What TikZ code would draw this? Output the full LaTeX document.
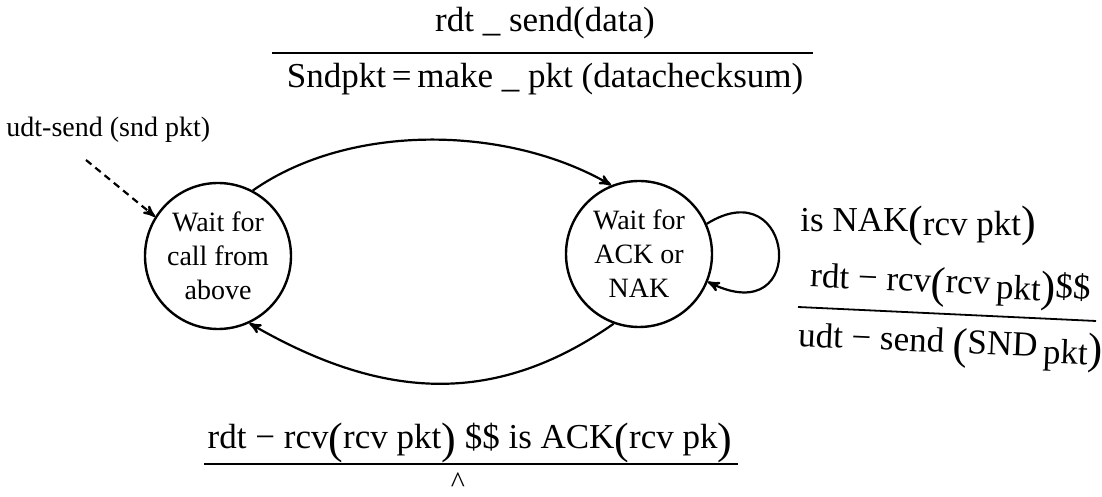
\documentclass[tikz,border=0pt]{standalone}
\usepackage{fontspec}
\setmainfont{Liberation Serif}
\usetikzlibrary{arrows}
\newcommand{\tallL}{\raisebox{-2.5pt}{\fontsize{22}{22}\selectfont(}}
\newcommand{\tallR}{\raisebox{-2.5pt}{\fontsize{22}{22}\selectfont)}}

\begin{document}
\begin{tikzpicture}[x = 0.5pt, y = 0.5pt, font=\fontsize{17.5}{20}\selectfont]
\tikzstyle{stateStyle}=[shape = circle, draw, line width = 1.2pt, minimum size = 73pt, inner sep = 0pt, align = center, font = \fontsize{14}{17}\selectfont]
\tikzstyle{edgeStyle}=[line width = 1.1pt, -stealth']
\tikzstyle{labelStyle}=[inner sep = 0pt, anchor = base]
\tikzstyle{barStyle}=[line width = 0.9pt]
\useasboundingbox (0,0) rectangle (1102,497);
% states
\node[stateStyle] (wcall) at (218,241) {Wait for\\call from\\above};
\node[stateStyle] (wack) at (639,243) {Wait for\\ACK or\\NAK};
% transitions
\coordinate (udtstart) at (86,337);
\path [edgeStyle]
(wcall.62) edge [out=35, in=150, looseness=0.85] (wack.112)
(wack.250) edge [out=215, in=-30, looseness=1.05] (wcall.295);
\draw [edgeStyle] (wack.24) .. controls +(88,55) and +(102,-50) .. (wack.-22);
\draw [edgeStyle, dash pattern=on 3.5pt off 2.5pt] (udtstart) -- (wcall.148);
% labels
\node[labelStyle, anchor = base west, font = \fontsize{14}{16}\selectfont] (udtlbl) at (6,360) {udt-send (snd pkt)};
\node[labelStyle] (topnum) at (545,465) {rdt \_ send(data)};
\coordinate (topbarL) at (272,444);
\coordinate (topbarR) at (813,444);
\draw [barStyle] (topbarL) -- (topbarR);
\node[labelStyle] (topden) at (545,409) {Sndpkt\,=\,make \_ pkt (datachecksum)};
\node[labelStyle, anchor = base west] (naklbl) at (800,265) {is NAK\tallL\raisebox{-2pt}{rcv pkt}\tallR};
\node[labelStyle, rotate = -2.5] (rnum) at (950,204) {rdt − rcv\tallL rcv\,\raisebox{-2pt}{pkt}\tallR\$\$};
\coordinate (rbarL) at (798,190);
\coordinate (rbarR) at (1096,176);
\draw [barStyle] (rbarL) -- (rbarR);
\node[labelStyle, rotate = -2.5] (rden) at (950,144) {udt − send \tallL SND\,\raisebox{-3pt}{pkt}\tallR};
\node[labelStyle] (bnum) at (470,48) {rdt − rcv\tallL rcv pkt\tallR\ \$\$ is ACK\tallL rcv pk\tallR};
\coordinate (bbarL) at (204,33);
\coordinate (bbarR) at (738,33);
\draw [barStyle] (bbarL) -- (bbarR);
\node[labelStyle, anchor = south, font = \fontsize{15}{15}\selectfont] (bden) at (458,4) {\textasciicircum};
\end{tikzpicture}
\end{document}
